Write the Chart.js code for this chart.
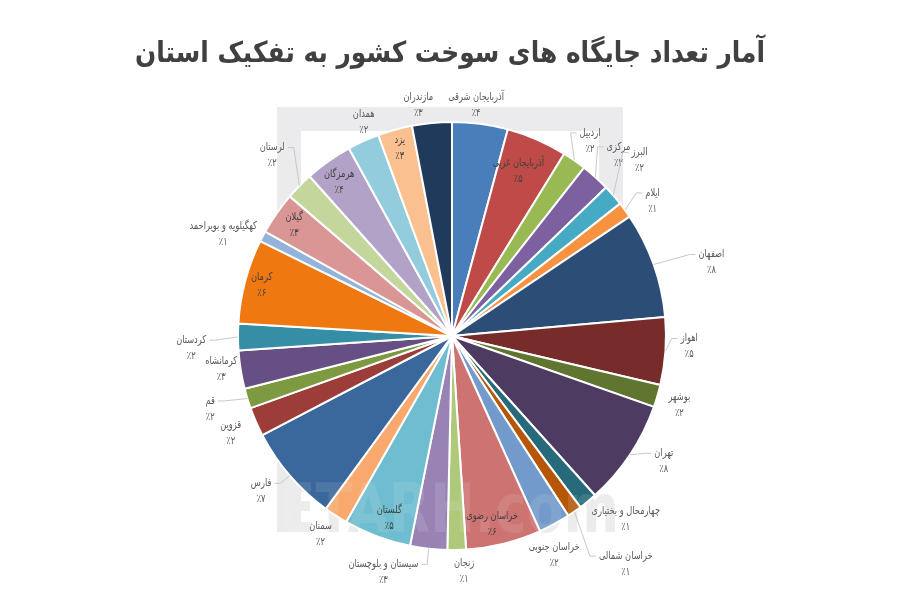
<!DOCTYPE html>
<html>
<head>
<meta charset="utf-8">
<script src="https://cdn.jsdelivr.net/npm/chart.js@4/dist/chart.umd.min.js"></script>
<style>
    html, body { margin: 0; padding: 0; background: #ffffff; }
    #myChart { display: block; }
</style>
</head>
<body>
<canvas id="myChart" width="900" height="600"></canvas>
<script>
    "use strict";

    // provinces, clockwise from 12 o'clock
    var provinces = [
        'آذربایجان شرقی', 'آذربایجان غربی', 'اردبیل', 'مرکزی', 'البرز', 'ایلام',
        'اصفهان', 'اهواز', 'بوشهر', 'تهران', 'چهارمحال و بختیاری', 'خراسان شمالی',
        'خراسان جنوبی', 'خراسان رضوی', 'زنجان', 'سیستان و بلوچستان', 'گلستان', 'سمنان',
        'فارس', 'قزوین', 'قم', 'کرمانشاه', 'کردستان', 'کرمان',
        'کهگیلویه و بویراحمد', 'گیلان', 'لرستان', 'هرمزگان', 'همدان', 'یزد', 'مازندران'
    ];

    // share of stations, percent
    var stationShares = [
        4.2, 4.6, 1.8, 2.2, 1.6, 1.2,
        8.0, 5.1, 1.7, 8.0, 1.4, 1.1,
        2.4, 5.7, 1.4, 2.8, 5.1, 1.8,
        7.3, 2.2, 1.5, 2.9, 2.0, 6.4,
        0.8, 3.2, 2.1, 3.6, 2.4, 2.6, 3.0
    ];

    var sliceColors = [
        '#4a7ebb', '#be4b48', '#98b954', '#7d60a0', '#46aac5', '#f69240',
        '#2c4d75', '#772c2a', '#5f7530', '#4d3b62', '#276a7c', '#b65708',
        '#729aca', '#cd7371', '#afc97a', '#9983b5', '#6fbdd1', '#f9a96e',
        '#3a679c', '#9c3d3a', '#7e9a41', '#664f83', '#358ea6', '#f07810',
        '#91b3dc', '#d99694', '#c3d69b', '#b3a2c7', '#93cddd', '#fac090', '#1f3a5a'
    ];

    // label placement: distance in outer radii and angular nudge in degrees
    var labelDist = [1.085, 0.83, 1.117, 1.15, 1.2, 1.13, 1.26, 1.11, 1.11, 1.15, 1.18, 1.34,
                     1.13, 0.9, 1.1, 1.15, 0.9, 1.11, 1.15, 1.13, 1.18, 1.09, 1.22, 0.92,
                     1.17, 0.9, 1.19, 0.89, 1.08, 0.91, 1.09];
    var labelNudge = [-1.6, -1.5, 0.4, 0.5, -2, 2.1, 3.7, -1.5, 0.6, -3.1, -4.1, -2.4,
                      3.6, 2, -1.7, 9.9, -1.5, 0.7, 1.6, -0.1, 0.2, 0.8, -2.4, 0,
                      -3.8, 0, 0.6, -1.1, 2, -0.1, -2.9];

    var chartTitle = 'آمار تعداد جایگاه های سوخت کشور به تفکیک استان';
    var watermark = 'ETARH.com';
    var faDigits = '۰۱۲۳۴۵۶۷۸۹';
    var FONT = '"DejaVu Sans", sans-serif';
    var LABEL_SQUEEZE = 0.75;

    function toPersian(n) {
        return String(n).replace(/[0-9]/g, function (d) { return faDigits[+d]; });
    }

    function squeezedText(ctx, text, x, y, sx) {
        ctx.save();
        ctx.translate(x, y);
        ctx.scale(sx, 1);
        ctx.fillText(text, 0, 0);
        ctx.restore();
    }

    function drawWatermark(ctx, color) {
        ctx.save();
        ctx.font = 'bold 68px ' + FONT;
        ctx.fillStyle = color;
        ctx.textAlign = 'left';
        ctx.textBaseline = 'alphabetic';
        var sx = 340 / ctx.measureText(watermark).width;
        squeezedText(ctx, watermark, 279, 532, sx);
        ctx.restore();
    }

    var backdropPlugin = {
        id: 'backdrop',
        beforeDatasetsDraw: function (chart) {
            var ctx = chart.ctx;
            ctx.save();
            ctx.fillStyle = '#ebebed';
            ctx.fillRect(277, 107, 346, 24);
            ctx.fillRect(277, 107, 24, 425);
            ctx.fillRect(599, 107, 24, 200);
            ctx.restore();
            drawWatermark(ctx, '#ececec');
        },
        afterDatasetsDraw: function (chart) {
            drawWatermark(chart.ctx, 'rgba(235,235,235,0.12)');
        }
    };

    var labelPlugin = {
        id: 'sliceLabels',
        afterDraw: function (chart) {
            var ctx = chart.ctx;
            var meta = chart.getDatasetMeta(0);
            ctx.save();
            ctx.direction = 'ltr';
            ctx.font = '11px ' + FONT;
            ctx.textAlign = 'center';
            ctx.textBaseline = 'middle';
            meta.data.forEach(function (arc, i) {
                var p = arc.getProps(['x', 'y', 'startAngle', 'endAngle', 'outerRadius'], true);
                var mid = (p.startAngle + p.endAngle) / 2;
                var ang = mid + labelNudge[i] * Math.PI / 180;
                var r = p.outerRadius * labelDist[i];
                var lx = p.x + Math.cos(ang) * r;
                var ly = p.y + Math.sin(ang) * r;
                var name = provinces[i];
                var pct = '٪' + toPersian(Math.round(stationShares[i]));
                var w = LABEL_SQUEEZE * Math.max(ctx.measureText(name).width, ctx.measureText(pct).width);
                var nameY = ly - 8, pctY = ly + 8;

                if (labelDist[i] > 1) {
                    // leader line from slice edge to the label box
                    var ex = p.x + Math.cos(mid) * p.outerRadius;
                    var ey = p.y + Math.sin(mid) * p.outerRadius;
                    var left = lx - w / 2 - 3, right = lx + w / 2 + 3;
                    var top = ly - 16, bottom = ly + 16;
                    var ax, ay, hx = null;
                    if (ex < left) { ax = left; ay = nameY; hx = left - 6; }
                    else if (ex > right) { ax = right; ay = nameY; hx = right + 6; }
                    else {
                        ax = Math.min(Math.max(ex, left), right);
                        ay = ey < top ? top : bottom;
                    }
                    var dist = Math.hypot(ax - ex, ay - ey);
                    if (dist > 16) {
                        ctx.strokeStyle = '#c8c8c8';
                        ctx.lineWidth = 1;
                        ctx.beginPath();
                        ctx.moveTo(ex, ey);
                        if (hx !== null) {
                            ctx.lineTo(hx, ay);
                        }
                        ctx.lineTo(ax, ay);
                        ctx.stroke();
                    }
                }
                ctx.fillStyle = labelDist[i] > 1 ? '#595959' : '#404040';
                squeezedText(ctx, name, lx, nameY, LABEL_SQUEEZE);
                squeezedText(ctx, pct, lx, pctY, LABEL_SQUEEZE);
            });
            ctx.restore();
        }
    };

    var titlePlugin = {
        id: 'titleText',
        afterDraw: function (chart) {
            var ctx = chart.ctx;
            ctx.save();
            ctx.font = 'bold 29px ' + FONT;
            ctx.fillStyle = '#404040';
            ctx.textAlign = 'center';
            ctx.textBaseline = 'middle';
            var sx = Math.min(1, 630 / ctx.measureText(chartTitle).width);
            squeezedText(ctx, chartTitle, 450, 54, sx);
            ctx.restore();
        }
    };

    var ctx = document.getElementById('myChart');
    var myChart = new Chart(ctx, {
        type: 'pie',
        data: {
            labels: provinces,
            datasets: [{
                label: 'جایگاه سوخت',
                data: stationShares,
                backgroundColor: sliceColors,
                borderColor: '#ffffff',
                borderWidth: 2
            }]
        },
        options: {
            responsive: false,
            animation: false,
            layout: { padding: { top: 121, bottom: 49, left: 4, right: 0 } },
            plugins: {
                legend: { display: false },
                tooltip: { enabled: false }
            }
        },
        plugins: [backdropPlugin, labelPlugin, titlePlugin]
    });
</script>
</body>
</html>
